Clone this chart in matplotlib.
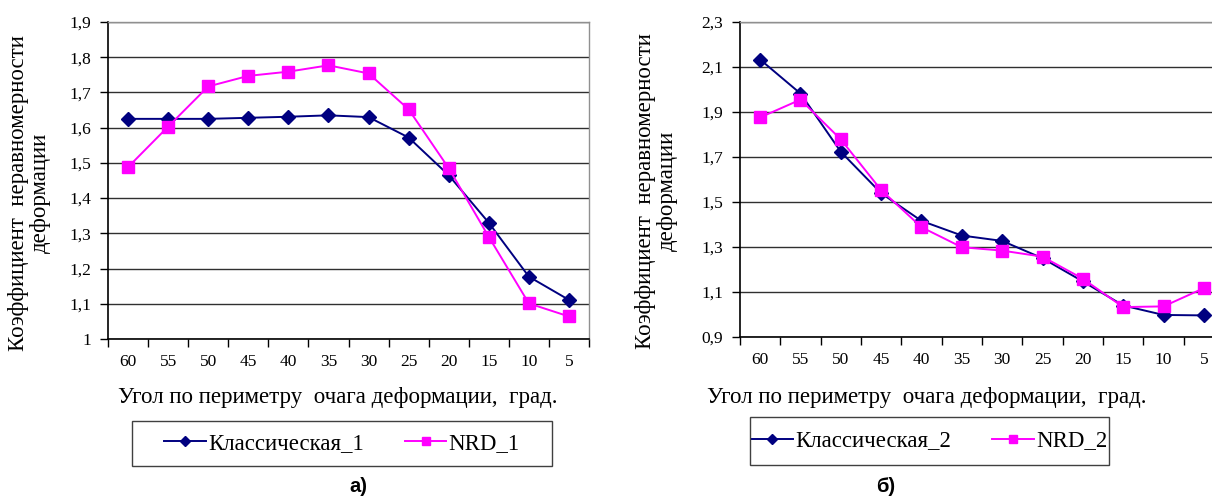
import matplotlib
matplotlib.use("Agg")
import matplotlib.pyplot as plt
from matplotlib.patches import Rectangle

plt.rcParams['font.family'] = ['Liberation Serif', 'DejaVu Serif']

# data
angles = ['60', '55', '50', '45', '40', '35', '30', '25', '20', '15', '10', '5']
klass_1 = [1.625, 1.625, 1.625, 1.628, 1.631, 1.635, 1.630, 1.572, 1.465, 1.330, 1.177, 1.111]
nrd_1 = [1.488, 1.603, 1.717, 1.747, 1.759, 1.777, 1.754, 1.652, 1.485, 1.290, 1.101, 1.064]
klass_2 = [2.133, 1.982, 1.723, 1.539, 1.416, 1.351, 1.327, 1.250, 1.147, 1.040, 0.998, 0.996]
nrd_2 = [1.876, 1.955, 1.778, 1.553, 1.388, 1.299, 1.284, 1.257, 1.159, 1.033, 1.036, 1.117]
yticks_1 = [1.0, 1.1, 1.2, 1.3, 1.4, 1.5, 1.6, 1.7, 1.8, 1.9]
ylabels_1 = ['1', '1,1', '1,2', '1,3', '1,4', '1,5', '1,6', '1,7', '1,8', '1,9']
yticks_2 = [0.9, 1.1, 1.3, 1.5, 1.7, 1.9, 2.1, 2.3]
ylabels_2 = ['0,9', '1,1', '1,3', '1,5', '1,7', '1,9', '2,1', '2,3']

xlabel = 'Угол по периметру  очага деформации,  град.'
ylabel = 'Коэффициент  неравномерности\nдеформации'

W, H = 1212, 500
fig = plt.figure(figsize=(W / 100, H / 100), dpi=100)

NAVY = '#000080'
MAG = '#FF00FF'


def px(x, y, w, h):
    return [x / W, 1 - (y + h) / H, w / W, h / H]


def draw(rect, k, n, yt, yl, names, xl_cx, yl_cx, yl_cy, leg_rect, cap, cap_x):
    ax = fig.add_axes(rect)
    x = list(range(len(angles)))
    ax.plot(x, k, color=NAVY, lw=1.4, marker='D', ms=7, mfc=NAVY, mec=NAVY,
            label=names[0], zorder=3, clip_on=False)
    ax.plot(x, n, color=MAG, lw=1.4, marker='s', ms=8.5, mfc=MAG, mec=MAG,
            label=names[1], zorder=4, clip_on=False)
    ax.set_xlim(-0.5, len(angles) - 0.5)
    ax.set_ylim(yt[0], yt[-1])
    ax.set_yticks(yt)
    ax.set_yticklabels(yl, fontsize=12.5)
    ax.yaxis.grid(True, color='#303030', lw=1)
    ax.set_axisbelow(True)
    ax.set_xticks([i - 0.5 for i in range(len(angles) + 1)])
    ax.set_xticklabels([])
    ax.set_xticks(x, minor=True)
    ax.set_xticklabels(angles, minor=True, fontsize=12.5)
    ax.tick_params(axis='x', which='major', direction='out', length=6, width=1, color='black')
    ax.tick_params(axis='x', which='minor', length=0, pad=11)
    ax.tick_params(axis='y', direction='out', length=6, width=1, pad=6, color='black')
    for s in ('left', 'bottom'):
        ax.spines[s].set_color('black')
        ax.spines[s].set_linewidth(1.2)
    for s in ('top', 'right'):
        ax.spines[s].set_color('#909090')
        ax.spines[s].set_linewidth(1)

    fig.text(xl_cx / W, 1 - 397 / H, xlabel, ha='center', va='center', fontsize=16.5)
    fig.text(yl_cx / W, 1 - yl_cy / H, ylabel, ha='center', va='center', rotation=90,
             multialignment='center', fontsize=16.5, linespacing=1.05)

    lx, ly, lw_, lh = leg_rect
    fig.patches.append(Rectangle((lx / W, 1 - (ly + lh) / H), lw_ / W, lh / H,
                                 transform=fig.transFigure, fill=False,
                                 edgecolor='#404040', lw=1))
    h, l = ax.get_legend_handles_labels()
    fig.legend(h, l, loc='center', bbox_to_anchor=((lx + lw_ / 2) / W, 1 - (ly + lh / 2) / H),
               ncol=2, frameon=False, fontsize=16.5, markerscale=0.7,
               handlelength=1.8, handletextpad=0.1, columnspacing=1.8)

    fig.text(cap_x / W, 1 - 487 / H, cap, ha='center', va='center', fontsize=14.5,
             fontweight='bold', family=['Liberation Sans', 'DejaVu Sans'])
    return ax


draw(px(108, 22, 481, 317), klass_1, nrd_1, yticks_1, ylabels_1,
     ['Классическая_1', 'NRD_1'], 338, 29, 193, (132, 421, 420, 45), 'а)', 358)
draw(px(740, 22, 484, 315), klass_2, nrd_2, yticks_2, ylabels_2,
     ['Классическая_2', 'NRD_2'], 927, 656, 191, (750, 417, 359, 48), 'б)', 886)

fig.savefig('out.png', dpi=100)
